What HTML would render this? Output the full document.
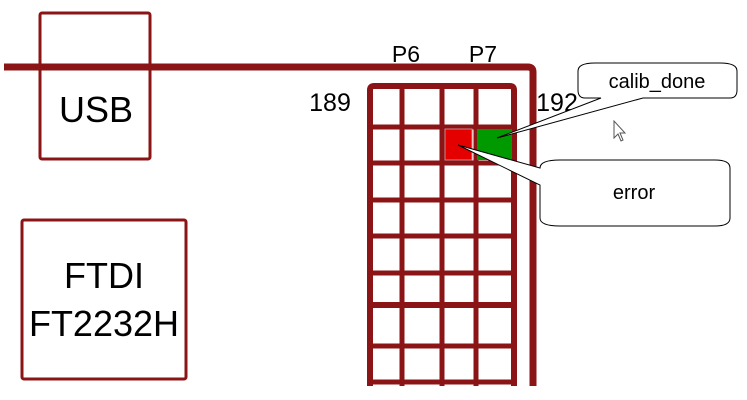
<!DOCTYPE html>
<html><head><meta charset="utf-8"><style>
html,body{margin:0;padding:0;background:#fff;width:747px;height:400px;overflow:hidden}
text{font-family:"Liberation Sans",sans-serif}
</style></head><body>
<svg width="747" height="400" viewBox="0 0 747 400" xmlns="http://www.w3.org/2000/svg">
<g stroke="#8b1516" fill="none" stroke-linecap="round" stroke-linejoin="round">
<rect x="40" y="13" width="110" height="146" rx="2" stroke-width="3"/>
<rect x="22" y="220" width="164" height="159" rx="2" stroke-width="3"/>
<path d="M4 67 H528 Q533 67 533 72 V386" stroke-width="7" stroke-linecap="butt"/>
<path d="M370 386 V90 Q370 86 374 86 H510 Q514 86 514 90 V386" stroke-width="6" stroke-linecap="butt"/>
<g stroke-width="5" stroke-linecap="butt">
<line x1="402" y1="86" x2="402" y2="386"/>
<line x1="442" y1="86" x2="442" y2="386"/>
<line x1="476" y1="86" x2="476" y2="386"/>
<line x1="370" y1="127" x2="514" y2="127"/>
<line x1="370" y1="163" x2="514" y2="163"/>
<line x1="370" y1="200" x2="514" y2="200"/>
<line x1="370" y1="236" x2="514" y2="236"/>
<line x1="370" y1="273" x2="514" y2="273"/>
<line x1="370" y1="346" x2="514" y2="346"/>
<line x1="370" y1="382" x2="514" y2="382"/>
</g>
<line x1="370" y1="305" x2="514" y2="305" stroke-width="6" stroke-linecap="butt"/>
</g>
<rect x="445" y="129" width="27" height="31" fill="#e50000" stroke="#c88" stroke-width="1"/>
<rect x="477" y="129" width="35" height="31" fill="#009900"/>
<text x="96" y="122" font-size="36" text-anchor="middle">USB</text>
<text x="104" y="288" font-size="36" text-anchor="middle">FTDI</text>
<text x="104" y="336" font-size="36" text-anchor="middle">FT2232H</text>
<text x="406" y="62" font-size="23" text-anchor="middle">P6</text>
<text x="483" y="62" font-size="23" text-anchor="middle">P7</text>
<text x="330" y="111" font-size="25" text-anchor="middle">189</text>
<text x="557" y="111" font-size="25" text-anchor="middle">192</text>
<path d="M601 98 L497 138 L643 98 H730 Q737 98 737 90 V71 Q737 63 720 63 H595 Q578 63 578 71 V90 Q578 98 585 98 Z" fill="#fff" stroke="#000" stroke-width="1"/>
<text x="657" y="88" font-size="20" text-anchor="middle">calib_done</text>
<path d="M540 168 L458 145 L540 185 V218 Q540 226 560 226 H715 Q730 226 730 218 V168 Q730 160 715 160 H560 Q540 160 540 168 Z" fill="#fff" stroke="#000" stroke-width="1"/>
<text x="634" y="199" font-size="20" text-anchor="middle">error</text>
<path d="M614 121 V138 L618 134 L621 141 L623 140 L620 133 L625 133 Z" fill="#fff" stroke="#555" stroke-width="1"/>
</svg>
</body></html>
